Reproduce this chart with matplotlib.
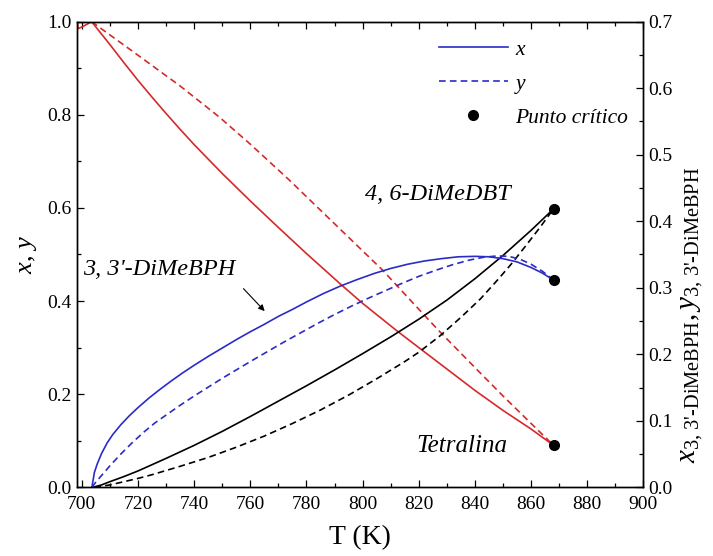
import matplotlib
matplotlib.use("Agg")
import matplotlib.pyplot as plt
from matplotlib.lines import Line2D
from matplotlib.ticker import MultipleLocator, FormatStrFormatter

plt.rcParams['font.family'] = 'serif'
plt.rcParams['font.serif'] = ['Liberation Serif', 'DejaVu Serif']
plt.rcParams['mathtext.fontset'] = 'custom'
plt.rcParams['mathtext.rm'] = 'Liberation Serif'
plt.rcParams['mathtext.it'] = 'Liberation Serif:italic'

RED = '#d42a2a'
BLUE = '#2b2bc8'

# Tetralina (left axis)
T_tet_x = [698.4, 698.7, 700.5, 703.5, 710, 715, 720, 725, 730, 735, 740, 750, 760, 770,
           780, 792, 800, 812, 820, 830, 840, 850, 860, 868]
x_tet = [1.0, 0.985, 0.99, 1.0, 0.951, 0.912, 0.874, 0.838, 0.803, 0.769, 0.736, 0.674,
         0.615, 0.558, 0.502, 0.437, 0.395, 0.337, 0.300, 0.254, 0.208, 0.165, 0.125, 0.09]
T_tet_y = [703.5, 720, 735, 749, 760, 773.5, 790, 807, 821.6, 827.5, 840, 850, 860, 868]
y_tet = [1.0, 0.928, 0.862, 0.795, 0.737, 0.662, 0.566, 0.467, 0.372, 0.334, 0.257, 0.196,
         0.137, 0.09]

# 4,6-DiMeDBT (left axis)
T_dbt_x = [704, 707, 710, 715, 720, 730, 740, 750, 760, 770, 780, 790, 800, 810, 820, 830,
           840, 850, 860, 868]
x_dbt = [0, 0.005, 0.012, 0.023, 0.035, 0.062, 0.09, 0.12, 0.152, 0.185, 0.218, 0.252,
         0.287, 0.323, 0.361, 0.402, 0.448, 0.498, 0.552, 0.598]
T_dbt_y = [704.5, 710, 715, 720, 725, 735, 745, 755, 765, 775, 785, 795, 805, 815, 820,
           827.5, 835, 842, 848, 853, 858, 863, 868]
y_dbt = [0, 0.005, 0.012, 0.019, 0.027, 0.045, 0.064, 0.086, 0.11, 0.137, 0.166, 0.198,
         0.233, 0.27, 0.29, 0.325, 0.365, 0.405, 0.445, 0.48, 0.518, 0.557, 0.598]

# 3,3'-DiMeBPH (right axis)
T_bph_x = [703.6, 704.5, 705.5, 707, 709, 711, 714, 717, 720, 724, 728, 732, 736, 740, 745,
           750, 755, 760, 765, 770, 775, 780, 786, 792, 798, 804, 810, 816, 822, 828, 834,
           840, 845, 850, 855, 860, 864, 868]
x_bph = [0, 0.0224, 0.035, 0.0504, 0.0665, 0.0791, 0.0945, 0.1078, 0.1197, 0.1344, 0.1477,
         0.1603, 0.1722, 0.1834, 0.1967, 0.2093, 0.2219, 0.2338, 0.245, 0.2569, 0.2674,
         0.2786, 0.2912, 0.3024, 0.3122, 0.3213, 0.329, 0.3353, 0.3402, 0.3437, 0.3465,
         0.3472, 0.3465, 0.3437, 0.3388, 0.3304, 0.322, 0.3115]
T_bph_y = [703.6, 705, 707, 710, 714, 718, 722, 726, 730, 735, 740, 745, 750, 755, 760, 766,
           772, 778, 784, 790, 796, 802, 808, 814, 820, 826, 832, 838, 843, 848, 852, 856,
           860, 864, 868]
y_bph = [0, 0.0077, 0.0175, 0.0322, 0.0504, 0.0672, 0.0826, 0.0966, 0.1085, 0.1232, 0.1372,
         0.1505, 0.1638, 0.1764, 0.189, 0.2037, 0.2184, 0.2324, 0.2464, 0.2597, 0.2723,
         0.2842, 0.2954, 0.3066, 0.3171, 0.3262, 0.3346, 0.3416, 0.3458, 0.3479, 0.3472,
         0.343, 0.3353, 0.3248, 0.3115]

# critical points
T_crit = 868
crit_left = [0.598, 0.09]
crit_right = [0.3115]

dash = (0, (4, 2.5))
lw = 1.2

fig = plt.figure(figsize=(7.13, 5.56), dpi=100)
ax = fig.add_axes([0.1076, 0.1236, 0.7949, 0.8374])
ax2 = ax.twinx()

ax.plot(T_tet_x, x_tet, color=RED, lw=lw)
ax.plot(T_tet_y, y_tet, color=RED, lw=lw, linestyle=dash)
ax.plot(T_dbt_x, x_dbt, color='black', lw=lw)
ax.plot(T_dbt_y, y_dbt, color='black', lw=lw, linestyle=dash)
ax2.plot(T_bph_x, x_bph, color=BLUE, lw=lw)
ax2.plot(T_bph_y, y_bph, color=BLUE, lw=lw, linestyle=dash)

ax.plot([T_crit] * len(crit_left), crit_left, 'o', color='black', ms=7, zorder=5)
ax2.plot([T_crit] * len(crit_right), crit_right, 'o', color='black', ms=7, zorder=5)

ax.set_xlim(698.2, 900)
ax.set_ylim(0, 1.0)
ax2.set_ylim(0, 0.7)

ax.xaxis.set_major_locator(MultipleLocator(20))
ax.xaxis.set_minor_locator(MultipleLocator(10))
ax.yaxis.set_major_locator(MultipleLocator(0.2))
ax.yaxis.set_minor_locator(MultipleLocator(0.1))
ax2.yaxis.set_major_locator(MultipleLocator(0.1))
ax2.yaxis.set_minor_locator(MultipleLocator(0.05))
ax.yaxis.set_major_formatter(FormatStrFormatter('%.1f'))
ax2.yaxis.set_major_formatter(FormatStrFormatter('%.1f'))

ax.tick_params(axis='x', which='both', direction='in', top=True, labelsize=14, pad=6)
ax.tick_params(axis='y', which='both', direction='in', right=False, labelsize=14)
ax2.tick_params(axis='y', which='both', direction='in', labelsize=14)
for a in (ax, ax2):
    a.tick_params(which='major', length=5, width=0.9)
    a.tick_params(which='minor', length=3, width=0.9)
    for s in a.spines.values():
        s.set_linewidth(1.0)

ax.set_xlabel('T (K)', fontsize=20, labelpad=9)
ax.set_ylabel('$x$, $y$', fontsize=19, labelpad=6)
ax2.set_ylabel(r"$x_{\text{3, 3'-DiMeBPH}}, y_{\text{3, 3'-DiMeBPH}}$", fontsize=21)
ax2.yaxis.set_label_coords(1.063, 0.37)

ax.text(800.8, 0.628, '4, 6-DiMeDBT', fontsize=17.5, style='italic', ha='left', va='center')
ax.text(700.6, 0.467, "3, 3'-DiMeBPH", fontsize=17.5, style='italic', ha='left', va='center')
ax.text(819.3, 0.089, 'Tetralina', fontsize=18, style='italic', ha='left', va='center')
ax.annotate('', xy=(765.8, 0.374), xytext=(756.9, 0.431),
            arrowprops=dict(arrowstyle='-|>', color='black', lw=0.8, mutation_scale=9))

handles = [Line2D([], [], color=BLUE, lw=lw),
           Line2D([], [], color=BLUE, lw=lw, linestyle=dash),
           Line2D([], [], color='black', marker='o', ms=7, linestyle='none')]
ax.legend(handles, ['x', 'y', 'Punto crítico'], loc='upper left',
          bbox_to_anchor=(0.62, 0.985), frameon=False, borderpad=0,
          handlelength=3.2, handletextpad=0.35, labelspacing=0.65,
          prop={'style': 'italic', 'size': 15.5})

fig.savefig('out.png', dpi=100)
